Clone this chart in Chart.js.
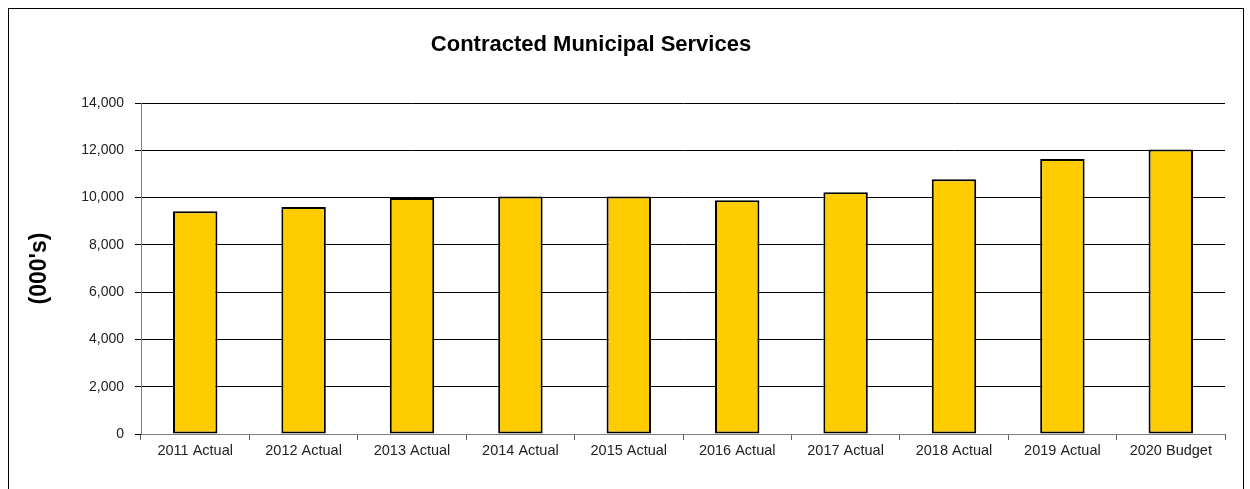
<!DOCTYPE html>
<html lang="en">
<head>
    <meta charset="UTF-8">
    <title>Contracted Municipal Services</title>
    <script src="https://cdn.jsdelivr.net/npm/chart.js"></script>
    <style>
        html, body { margin: 0; padding: 0; background: #fff; overflow: hidden; }
        #wrap { position: relative; width: 1250px; height: 489px; }
        #frame {
            position: absolute; left: 8px; top: 8px; width: 1236px; height: 500px;
            border: 1px solid #000; pointer-events: none; box-sizing: border-box;
        }
    </style>
</head>
<body>
    <div id="wrap">
        <canvas id="graphic" width="1250" height="489"></canvas>
        <div id="frame"></div>
    </div>
    <script>
        const chartTitle = "Contracted Municipal Services";
        const axisTitle = "(000's)";
        const categories = ["2011 Actual", "2012 Actual", "2013 Actual", "2014 Actual", "2015 Actual",
            "2016 Actual", "2017 Actual", "2018 Actual", "2019 Actual", "2020 Budget"];
        const costs = [9420, 9600, 9980, 10050, 10050, 9890, 10220, 10770, 11630, 12030];

        const fontFamily = "Arial, 'Liberation Sans', sans-serif";

        // title is centred a bit left of the canvas middle, like the original
        const titlePlugin = {
            id: "offsetTitle",
            afterDraw(chart) {
                const ctx = chart.ctx;
                ctx.save();
                ctx.font = "bold 22px " + fontFamily;
                ctx.fillStyle = "#000";
                ctx.textAlign = "center";
                ctx.textBaseline = "middle";
                ctx.fillText(chartTitle, 591, 45);
                ctx.restore();
            }
        };

        const ctx = document.getElementById("graphic").getContext("2d");

        new Chart(ctx, {
            type: "bar",
            data: {
                labels: categories,
                datasets: [{
                    data: costs,
                    backgroundColor: "#FFCC00",
                    borderColor: "#000",
                    borderWidth: 2,
                    borderSkipped: false,
                    barPercentage: 0.41,
                    categoryPercentage: 1
                }]
            },
            plugins: [titlePlugin],
            options: {
                responsive: false,
                animation: false,
                layout: { padding: { top: 103, right: 25, left: 0, bottom: 0 } },
                plugins: {
                    legend: { display: false },
                    tooltip: { enabled: false }
                },
                scales: {
                    x: {
                        afterFit(scale) { scale.height = 55; },
                        grid: {
                            offset: true,
                            drawOnChartArea: false,
                            drawTicks: true,
                            tickLength: 6,
                            color: "#606060"
                        },
                        border: { color: "#808080", width: 1 },
                        ticks: {
                            color: "#222",
                            font: { family: fontFamily, size: 14.5 },
                            padding: 2,
                            maxRotation: 0,
                            autoSkip: false
                        }
                    },
                    y: {
                        min: 0,
                        max: 14000,
                        afterFit(scale) { scale.width = 141; },
                        grid: {
                            color: "#000",
                            lineWidth: 1,
                            tickLength: 6
                        },
                        border: { color: "#808080", width: 1 },
                        ticks: {
                            stepSize: 2000,
                            color: "#222",
                            padding: 11,
                            font: { family: fontFamily, size: 14 },
                            callback: v => v.toLocaleString("en-US")
                        },
                        title: {
                            display: true,
                            text: axisTitle,
                            color: "#000",
                            font: { family: fontFamily, size: 23, weight: "bold" },
                            padding: { top: 26, bottom: 0 }
                        }
                    }
                }
            }
        });
    </script>
</body>
</html>
